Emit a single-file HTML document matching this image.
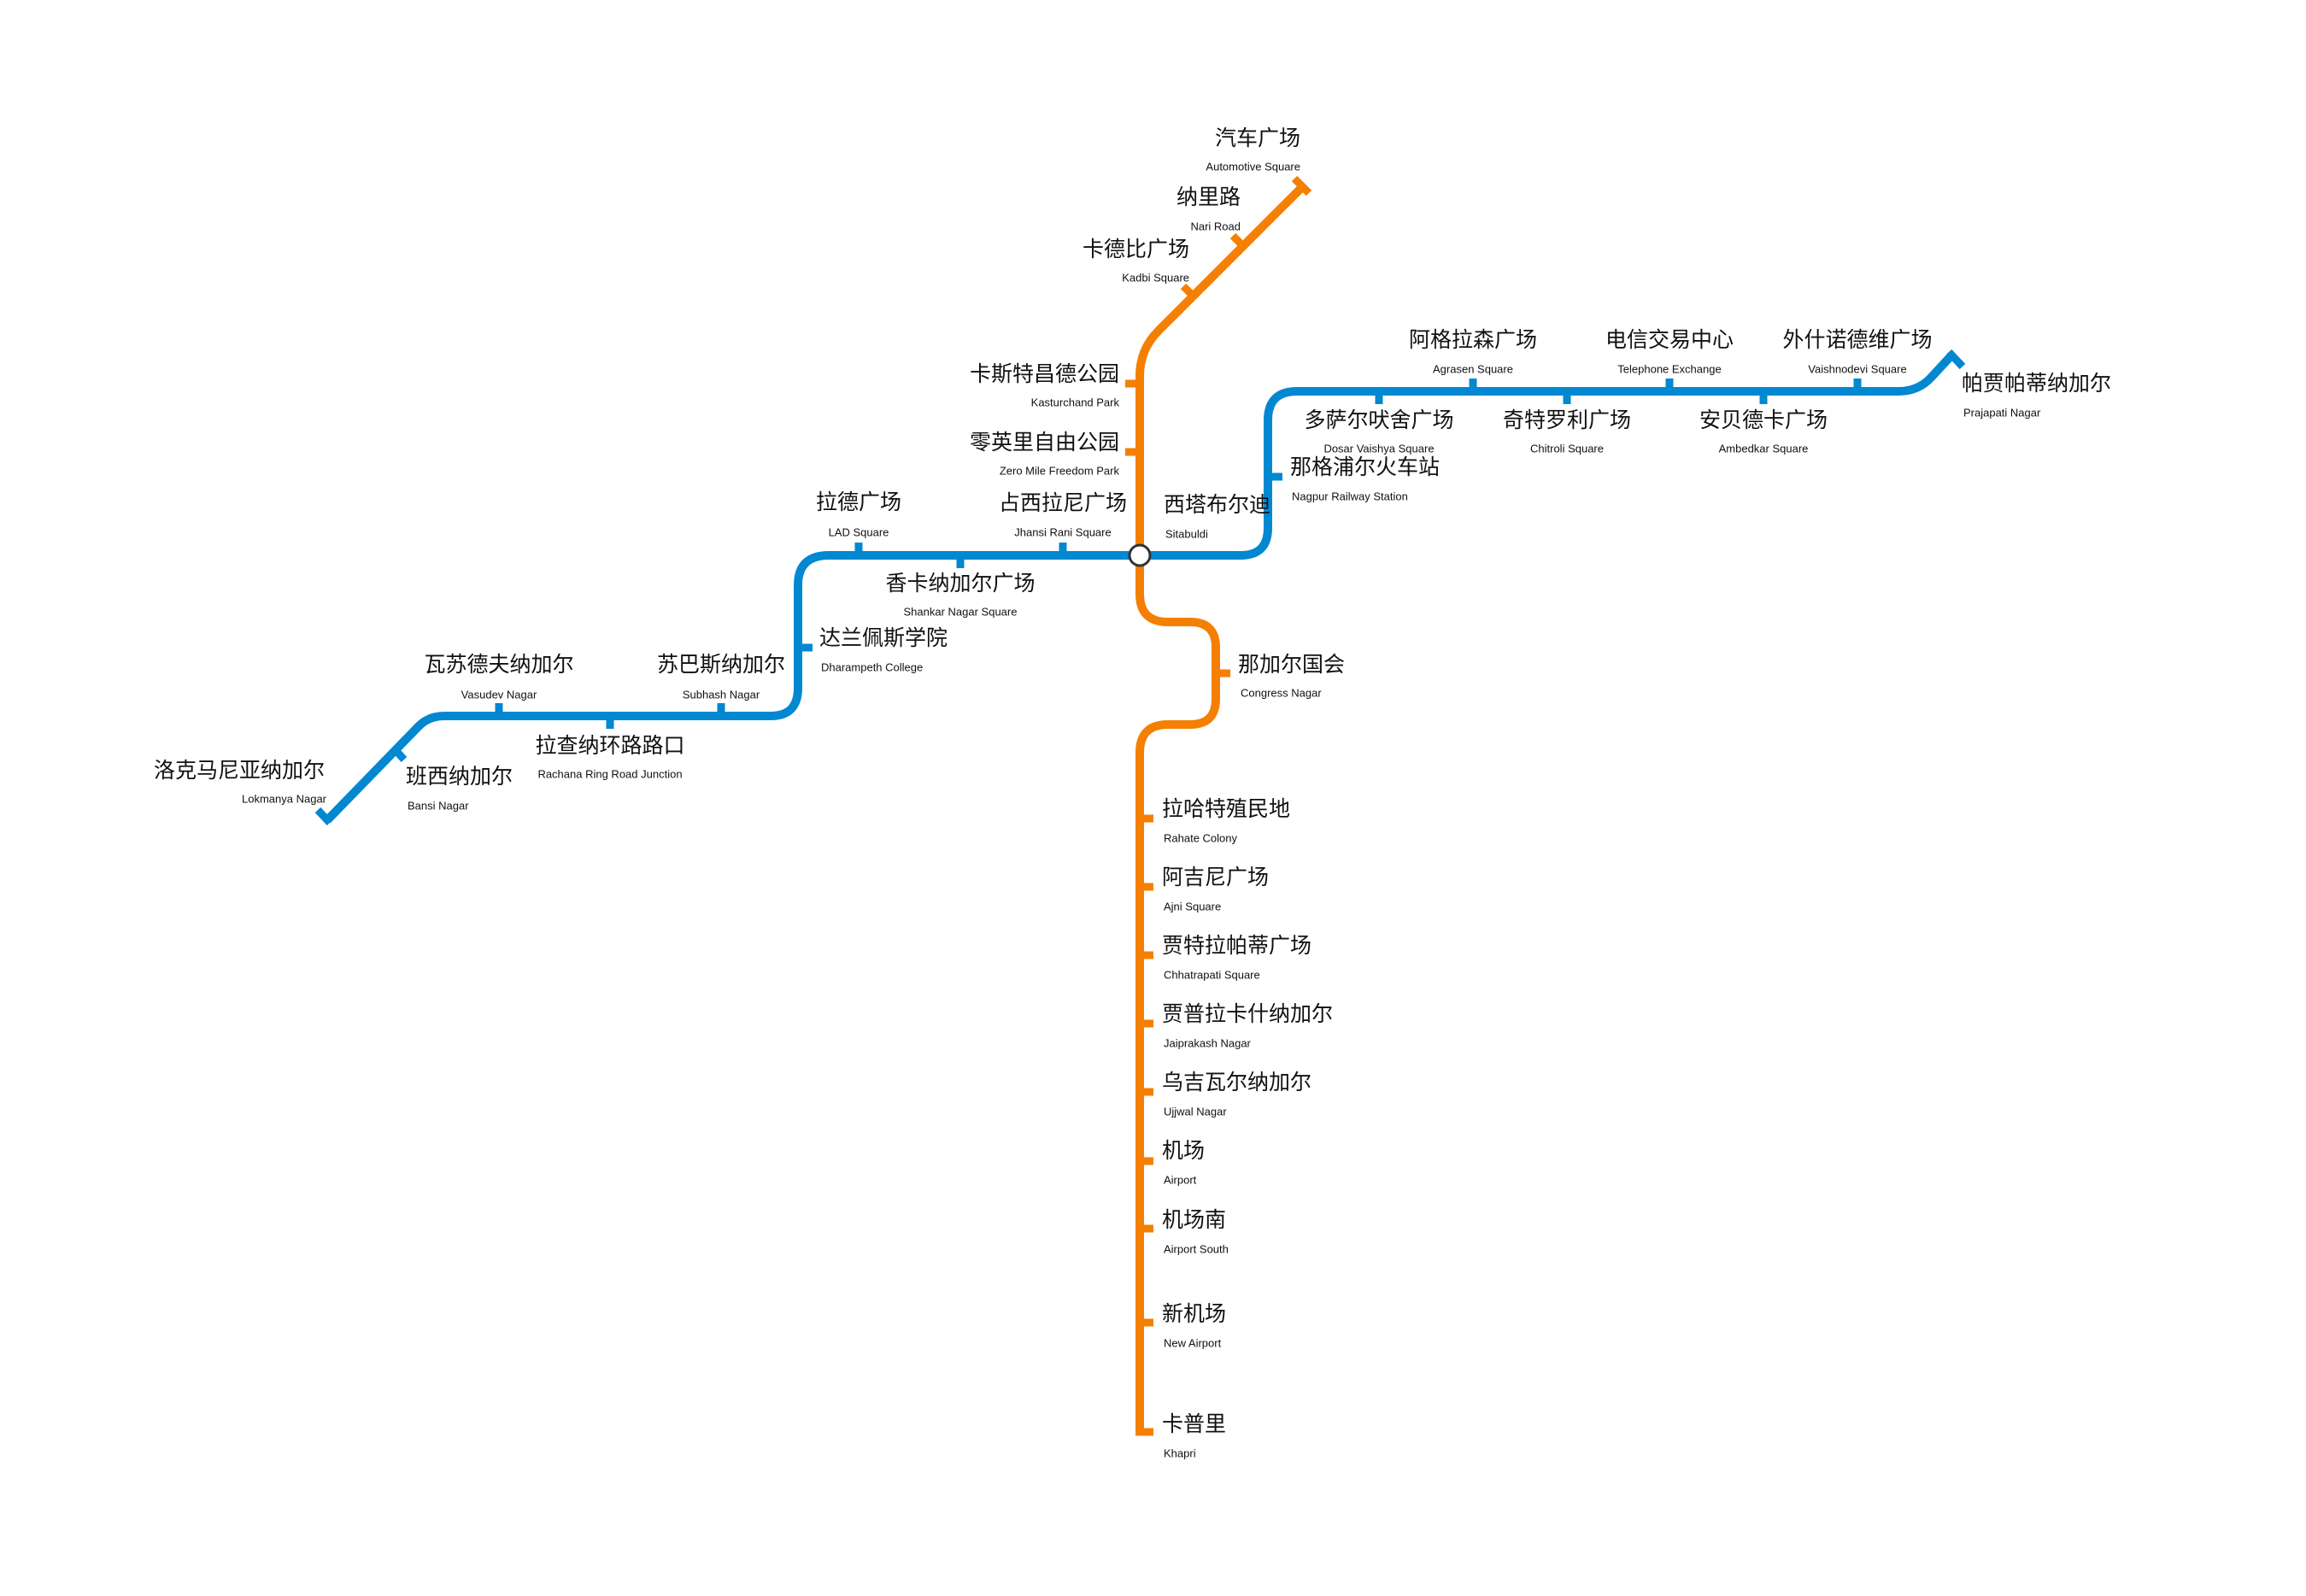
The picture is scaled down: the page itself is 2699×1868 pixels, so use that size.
<!DOCTYPE html>
<html><head><meta charset="utf-8"><style>
html,body{margin:0;padding:0;background:#fff;}
svg{display:block;}
text{font-family:"Liberation Sans","Noto Sans CJK SC",sans-serif;fill:#111;dominant-baseline:central;}
.c{font-size:25px;}
.e{font-size:13px;}
</style></head><body>
<svg width="2699" height="1868" viewBox="0 0 2699 1868" xmlns="http://www.w3.org/2000/svg">
<g fill="none" stroke-linecap="butt" stroke-linejoin="round">
<!-- Orange line -->
<path d="M1525,218 L1356,387 Q1334,409 1334,440 L1334,695 Q1334,728 1367,728 L1393,728 Q1423,728 1423,758 L1423,818 Q1423,848 1393,848 L1367,848 Q1334,848 1334,881 L1334,1680" stroke="#F57F00" stroke-width="10"/>
<g stroke="#F57F00" stroke-width="9">
<line x1="1515" y1="209" x2="1532" y2="226"/>
<line x1="1455" y1="288" x2="1443" y2="276"/>
<line x1="1397" y1="347" x2="1385" y2="335"/>
<line x1="1334" y1="449" x2="1317" y2="449"/>
<line x1="1334" y1="529" x2="1317" y2="529"/>
<line x1="1423" y1="788" x2="1440" y2="788"/>
<line x1="1334" y1="958" x2="1350" y2="958"/>
<line x1="1334" y1="1038" x2="1350" y2="1038"/>
<line x1="1334" y1="1118" x2="1350" y2="1118"/>
<line x1="1334" y1="1198" x2="1350" y2="1198"/>
<line x1="1334" y1="1278" x2="1350" y2="1278"/>
<line x1="1334" y1="1359" x2="1350" y2="1359"/>
<line x1="1334" y1="1438" x2="1350" y2="1438"/>
<line x1="1334" y1="1548" x2="1350" y2="1548"/>
<line x1="1329" y1="1676" x2="1350" y2="1676"/>
</g>
<!-- Blue line -->
<path d="M383,960 L490,850 Q502,838 520,838 L902,838 Q934,838 934,805 L934,685 Q934,650 970,650 L1452,650 Q1484,650 1484,618 L1484,492 Q1484,458 1518,458 L2222,458 Q2245,458 2260,442 L2285,415" stroke="#0288D1" stroke-width="10"/>
<g stroke="#0288D1" stroke-width="9">
<line x1="386" y1="963" x2="372" y2="948"/>
<line x1="462" y1="877" x2="473" y2="889"/>
<line x1="584" y1="838" x2="584" y2="823"/>
<line x1="844" y1="838" x2="844" y2="823"/>
<line x1="714" y1="838" x2="714" y2="853"/>
<line x1="934" y1="758" x2="951" y2="758"/>
<line x1="1005" y1="650" x2="1005" y2="635"/>
<line x1="1244" y1="650" x2="1244" y2="635"/>
<line x1="1124" y1="650" x2="1124" y2="665"/>
<line x1="1484" y1="558" x2="1501" y2="558"/>
<line x1="1724" y1="458" x2="1724" y2="443"/>
<line x1="1954" y1="458" x2="1954" y2="443"/>
<line x1="2174" y1="458" x2="2174" y2="443"/>
<line x1="1614" y1="458" x2="1614" y2="473"/>
<line x1="1834" y1="458" x2="1834" y2="473"/>
<line x1="2064" y1="458" x2="2064" y2="473"/>
<line x1="2281" y1="412" x2="2297" y2="429"/>
</g>
</g>
<circle cx="1334" cy="650" r="12" fill="#fff" stroke="#333" stroke-width="3"/>

<!-- Orange labels -->
<g text-anchor="end">
<text class="c" x="1522" y="162">汽车广场</text><text class="e" x="1522" y="195">Automotive Square</text>
<text class="c" x="1452" y="231">纳里路</text><text class="e" x="1452" y="265">Nari Road</text>
<text class="c" x="1392" y="292">卡德比广场</text><text class="e" x="1392" y="325">Kadbi Square</text>
<text class="c" x="1310" y="438">卡斯特昌德公园</text><text class="e" x="1310" y="471">Kasturchand Park</text>
<text class="c" x="1310" y="518">零英里自由公园</text><text class="e" x="1310" y="551">Zero Mile Freedom Park</text>
<text class="c" x="380" y="902">洛克马尼亚纳加尔</text><text class="e" x="382" y="935">Lokmanya Nagar</text>
</g>
<g text-anchor="start">
<text class="c" x="1449" y="778">那加尔国会</text><text class="e" x="1452" y="811">Congress Nagar</text>
<text class="c" x="1360" y="947">拉哈特殖民地</text><text class="e" x="1362" y="981">Rahate Colony</text>
<text class="c" x="1360" y="1027">阿吉尼广场</text><text class="e" x="1362" y="1061">Ajni Square</text>
<text class="c" x="1360" y="1107">贾特拉帕蒂广场</text><text class="e" x="1362" y="1141">Chhatrapati Square</text>
<text class="c" x="1360" y="1187">贾普拉卡什纳加尔</text><text class="e" x="1362" y="1221">Jaiprakash Nagar</text>
<text class="c" x="1360" y="1267">乌吉瓦尔纳加尔</text><text class="e" x="1362" y="1301">Ujjwal Nagar</text>
<text class="c" x="1360" y="1347">机场</text><text class="e" x="1362" y="1381">Airport</text>
<text class="c" x="1360" y="1428">机场南</text><text class="e" x="1362" y="1462">Airport South</text>
<text class="c" x="1360" y="1538">新机场</text><text class="e" x="1362" y="1572">New Airport</text>
<text class="c" x="1360" y="1667">卡普里</text><text class="e" x="1362" y="1701">Khapri</text>
<text class="c" x="1362" y="591">西塔布尔迪</text><text class="e" x="1364" y="625">Sitabuldi</text>
<text class="c" x="1510" y="547">那格浦尔火车站</text><text class="e" x="1512" y="581">Nagpur Railway Station</text>
<text class="c" x="2296" y="449">帕贾帕蒂纳加尔</text><text class="e" x="2298" y="483">Prajapati Nagar</text>
<text class="c" x="959" y="747">达兰佩斯学院</text><text class="e" x="961" y="781">Dharampeth College</text>
<text class="c" x="475" y="909">班西纳加尔</text><text class="e" x="477" y="943">Bansi Nagar</text>
</g>
<g text-anchor="middle">
<text class="c" x="1244" y="589">占西拉尼广场</text><text class="e" x="1244" y="623">Jhansi Rani Square</text>
<text class="c" x="1005" y="588">拉德广场</text><text class="e" x="1005" y="623">LAD Square</text>
<text class="c" x="1124" y="683">香卡纳加尔广场</text><text class="e" x="1124" y="716">Shankar Nagar Square</text>
<text class="c" x="584" y="778">瓦苏德夫纳加尔</text><text class="e" x="584" y="813">Vasudev Nagar</text>
<text class="c" x="844" y="778">苏巴斯纳加尔</text><text class="e" x="844" y="813">Subhash Nagar</text>
<text class="c" x="714" y="873">拉查纳环路路口</text><text class="e" x="714" y="906">Rachana Ring Road Junction</text>
<text class="c" x="1724" y="398">阿格拉森广场</text><text class="e" x="1724" y="432">Agrasen Square</text>
<text class="c" x="1954" y="398">电信交易中心</text><text class="e" x="1954" y="432">Telephone Exchange</text>
<text class="c" x="2174" y="398">外什诺德维广场</text><text class="e" x="2174" y="432">Vaishnodevi Square</text>
<text class="c" x="1614" y="492">多萨尔吠舍广场</text><text class="e" x="1614" y="525">Dosar Vaishya Square</text>
<text class="c" x="1834" y="492">奇特罗利广场</text><text class="e" x="1834" y="525">Chitroli Square</text>
<text class="c" x="2064" y="492">安贝德卡广场</text><text class="e" x="2064" y="525">Ambedkar Square</text>
</g>
</svg>
</body></html>
